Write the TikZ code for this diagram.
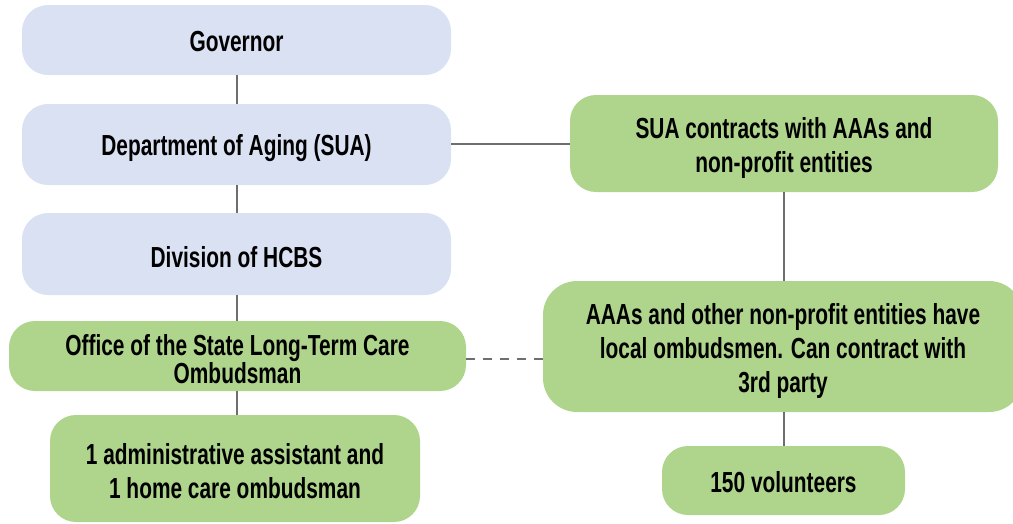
\documentclass[tikz,border=0pt]{standalone}
\usepackage{fontspec}
\setmainfont{Liberation Sans}[FakeStretch=0.72]
\definecolor{boxblue}{HTML}{D9E1F2}
\definecolor{boxgreen}{HTML}{AED58B}
\definecolor{linegray}{HTML}{6E6E70}
\tikzset{
  box/.style={rounded corners=26pt, inner sep=0pt},
  bluebox/.style={box, fill=boxblue},
  greenbox/.style={box, fill=boxgreen},
  txt/.style={inner sep=0pt, align=center,
    font=\fontsize{29}{34}\selectfont\bfseries, text=black},
  link/.style={draw=linegray, line width=2pt},
  dlink/.style={link, dash pattern=on 9pt off 8pt}
}
\begin{document}
\begin{tikzpicture}[x=1pt,y=-1pt]
\useasboundingbox (0,0) rectangle (1013,523);
\clip (0,0) rectangle (1013,523);
\node[bluebox, minimum width=429pt, minimum height=70pt] (gov) at (236.5,40) {};
\node[bluebox, minimum width=429pt, minimum height=81pt] (dept) at (236.5,144.5) {};
\node[bluebox, minimum width=429pt, minimum height=82pt] (div) at (236.5,254) {};
\node[greenbox, minimum width=457pt, minimum height=70pt] (off) at (237.5,356) {};
\node[greenbox, minimum width=370pt, minimum height=107pt] (adm) at (235,468.5) {};
\node[greenbox, minimum width=428pt, minimum height=97pt] (sua) at (784,143.5) {};
\node[greenbox, minimum width=480pt, minimum height=131pt, rounded corners=34pt] (aaa) at (783,346.5) {};
\node[greenbox, minimum width=243pt, minimum height=69pt] (vol) at (783.5,480.5) {};
\node[txt] (govt) at ([yshift=-2pt]gov.center) {Governor};
\node[txt] (deptt) at ([yshift=-4pt]dept.center) {Department of Aging (SUA)};
\node[txt] (divt) at ([yshift=-3pt]div.center) {Division of HCBS};
\node[txt, font=\fontsize{29}{28}\selectfont\bfseries] (offt) at ([yshift=-3pt]off.center) {Office of the State Long-Term Care\\Ombudsman};
\node[txt] (admt) at ([yshift=-3pt]adm.center) {1 administrative assistant and\\1 home care ombudsman};
\node[txt] (suat) at ([yshift=-4pt]sua.center) {SUA contracts with AAAs and\\non-profit entities};
\node[txt] (aaat) at ([yshift=-4pt]aaa.center) {AAAs and other non-profit entities have\\local ombudsmen. Can contract with\\3rd party};
\node[txt] (volt) at ([yshift=-1.5pt]vol.center) {150 volunteers};
\draw[link] (gov.south) -- (dept.north);
\draw[link] (dept.south) -- (div.north);
\draw[link] (div.south) -- (off.north -| div.south);
\draw[link] (off.south -| div.south) -- (adm.north -| div.south);
\draw[link] (dept.east |- sua.west) -- (sua.west);
\draw[link] (sua.south) -- (aaa.north -| sua.south);
\draw[link] (aaa.south -| sua.south) -- (vol.north -| sua.south);
\draw[dlink] ([yshift=-3pt]off.east) -- ([yshift=-3pt]off.east -| aaa.west);
\end{tikzpicture}
\end{document}
